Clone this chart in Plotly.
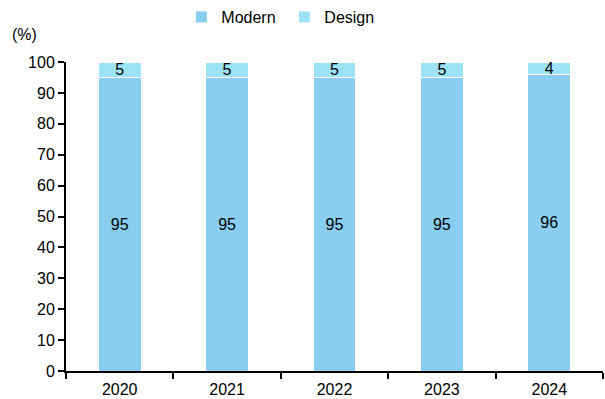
import plotly.graph_objects as go

years = ["2020", "2021", "2022", "2023", "2024"]
modern = [95, 95, 95, 95, 96]
design = [5, 5, 5, 5, 4]
y_ticks = list(range(0, 101, 10))

fig = go.Figure()
fig.add_trace(go.Bar(x=years, y=modern, name="Modern", marker=dict(color="#89CEF0", line=dict(color="white", width=1)),
                     text=[str(v) for v in modern], textposition="inside", insidetextanchor="middle", textangle=0,
                     textfont=dict(color="black", size=16), constraintext="none"))
fig.add_trace(go.Bar(x=years, y=design, name="Design", marker=dict(color="#9DE3F7", line=dict(color="white", width=1)),
                     text=[str(v) for v in design], textposition="inside", insidetextanchor="middle", textangle=0,
                     textfont=dict(color="black", size=16), constraintext="none"))

fig.update_layout(
    barmode="stack", bargap=0.6,
    width=605, height=399,
    margin=dict(l=66, r=2, t=62, b=28, autoexpand=False),
    paper_bgcolor="white", plot_bgcolor="white",
    font=dict(family="Liberation Sans, Arial", size=16, color="black"),
    uniformtext=dict(minsize=16, mode="show"),
    legend=dict(orientation="h", x=0.47, xref="container", xanchor="center", y=1.0, yref="container", yanchor="top",
                font=dict(size=16), traceorder="normal", bgcolor="rgba(0,0,0,0)",
                entrywidth=58, entrywidthmode="pixels"),
    xaxis=dict(showline=True, linecolor="black", linewidth=2, ticks="outside", tickson="boundaries",
               ticklen=6, tickwidth=2, tickcolor="black", showgrid=False, tickfont=dict(size=16),
               ticklabelstandoff=3),
    yaxis=dict(range=[0, 100], tickvals=y_ticks, showline=True, linecolor="black", linewidth=2,
               ticks="outside", ticklen=6, tickwidth=1.5, tickcolor="black", showgrid=False,
               tickfont=dict(size=16), zeroline=False),
    annotations=[dict(text="(%)", xref="paper", yref="paper", x=-0.105, y=1.09, xanchor="left", yanchor="middle",
                      showarrow=False, font=dict(size=16))],
)
fig.write_html("out.html")
